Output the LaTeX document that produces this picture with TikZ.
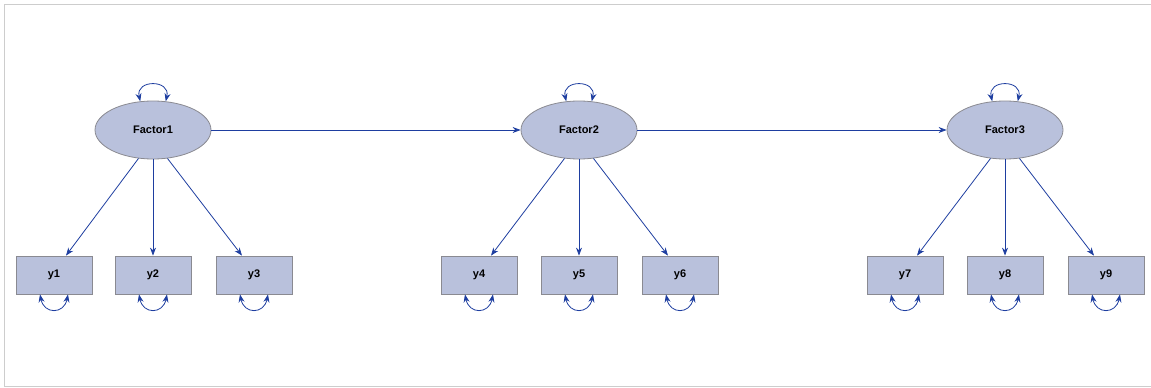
\documentclass[tikz,border=0pt]{standalone}
\usepackage{fontspec}
\setmainfont{Liberation Sans}
\usetikzlibrary{shapes.geometric,arrows.meta}
\definecolor{nodefill}{RGB}{185,193,220}
\definecolor{nodeedge}{RGB}{138,138,145}
\definecolor{linkblue}{RGB}{30,62,160}
\definecolor{framegray}{RGB}{205,205,205}
\tikzset{
  factor/.style={ellipse, draw=nodeedge, fill=nodefill, line width=0.8pt,
    minimum width=116pt, minimum height=58pt, inner sep=0pt,
    font=\fontsize{11}{13}\selectfont\bfseries},
  obs/.style={rectangle, draw=nodeedge, fill=nodefill, line width=0.8pt,
    minimum width=76pt, minimum height=38pt, inner sep=0pt,
    font=\fontsize{11}{13}\selectfont\bfseries},
  link/.style={draw=linkblue, line width=0.8pt, -{Stealth[length=8pt,width=6pt]}},
  loop/.style={draw=linkblue, line width=0.8pt, {Stealth[length=8pt,width=6pt]}-{Stealth[length=8pt,width=6pt]}},
  frame/.style={draw=framegray, line width=0.8pt}
}
\begin{document}
\begin{tikzpicture}[x=1pt,y=-1pt]
\useasboundingbox (0,0) rectangle (1151,388);
\draw[frame] (1151,4) -- (4,4) -- (4,386) -- (1151,386);

\node[factor] (F1) at (153,130) {Factor1};
\node[factor] (F2) at (579,130) {Factor2};
\node[factor] (F3) at (1005,130) {Factor3};

\node[obs] (y1) at (54,275) {y1};
\node[obs] (y2) at (153,275) {y2};
\node[obs] (y3) at (254,275) {y3};
\node[obs] (y4) at (479,275) {y4};
\node[obs] (y5) at (579,275) {y5};
\node[obs] (y6) at (680,275) {y6};
\node[obs] (y7) at (905,275) {y7};
\node[obs] (y8) at (1005,275) {y8};
\node[obs] (y9) at (1106,275) {y9};

\draw[link] (F1) -- (F2);
\draw[link] (F2) -- (F3);

\foreach \f/\a/\b/\c in {F1/y1/y2/y3, F2/y4/y5/y6, F3/y7/y8/y9}{
  \draw[link] (\f.243) -- ([xshift=12pt]\a.north);
  \draw[link] (\f.south) -- (\b.north);
  \draw[link] (\f.297) -- ([xshift=-12pt]\c.north);
  \draw[loop] (\f.114) .. controls +(-5,-22) and +(5,-22) .. (\f.66);
}
\foreach \y in {y1,y2,y3,y4,y5,y6,y7,y8,y9}{
  \draw[loop] ([xshift=-14pt]\y.south) .. controls +(4,20) and +(-4,20) .. ([xshift=14pt]\y.south);
}
\end{tikzpicture}
\end{document}
